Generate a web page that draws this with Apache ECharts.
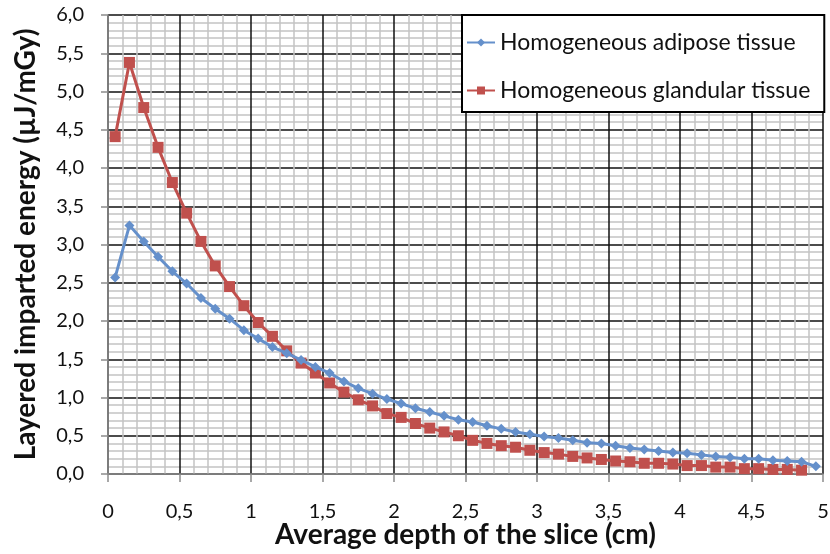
<!DOCTYPE html>
<html>
<head>
<meta charset="utf-8">
<script src="https://cdn.jsdelivr.net/npm/echarts@6/dist/echarts.min.js"></script>
<style>
  html, body { margin: 0; padding: 0; background: #ffffff; }
  #chart { width: 830px; height: 554px; }
</style>
</head>
<body>
<div id="chart"></div>
<script>
// Slice depths (cm) at the centre of each 1 mm slice
const depthAdipose = [
  0.05, 0.15, 0.25, 0.35, 0.45, 0.55, 0.65, 0.75, 0.85, 0.95,
  1.05, 1.15, 1.25, 1.35, 1.45, 1.55, 1.65, 1.75, 1.85, 1.95,
  2.05, 2.15, 2.25, 2.35, 2.45, 2.55, 2.65, 2.75, 2.85, 2.95,
  3.05, 3.15, 3.25, 3.35, 3.45, 3.55, 3.65, 3.75, 3.85, 3.95,
  4.05, 4.15, 4.25, 4.35, 4.45, 4.55, 4.65, 4.75, 4.85, 4.95
];
const depthGlandular = [
  0.05, 0.15, 0.25, 0.35, 0.45, 0.55, 0.65, 0.75, 0.85, 0.95,
  1.05, 1.15, 1.25, 1.35, 1.45, 1.55, 1.65, 1.75, 1.85, 1.95,
  2.05, 2.15, 2.25, 2.35, 2.45, 2.55, 2.65, 2.75, 2.85, 2.95,
  3.05, 3.15, 3.25, 3.35, 3.45, 3.55, 3.65, 3.75, 3.85, 3.95,
  4.05, 4.15, 4.25, 4.35, 4.45, 4.55, 4.65, 4.75, 4.85
];

// Layered imparted energy (µJ/mGy)
const energyAdipose = [
  2.57, 3.25, 3.04, 2.84, 2.65, 2.49, 2.30, 2.16, 2.03, 1.88,
  1.77, 1.66, 1.58, 1.49, 1.40, 1.32, 1.21, 1.12, 1.05, 0.98,
  0.92, 0.86, 0.81, 0.76, 0.71, 0.68, 0.63, 0.59, 0.55, 0.52,
  0.49, 0.47, 0.44, 0.41, 0.40, 0.37, 0.34, 0.32, 0.30, 0.28,
  0.27, 0.25, 0.23, 0.22, 0.20, 0.20, 0.18, 0.17, 0.16, 0.10
];
const energyGlandular = [
  4.41, 5.38, 4.79, 4.27, 3.81, 3.41, 3.04, 2.72, 2.45, 2.20,
  1.98, 1.80, 1.61, 1.45, 1.32, 1.19, 1.07, 0.97, 0.89, 0.79,
  0.74, 0.66, 0.60, 0.55, 0.50, 0.44, 0.40, 0.37, 0.35, 0.31,
  0.28, 0.26, 0.23, 0.21, 0.19, 0.17, 0.16, 0.14, 0.14, 0.13,
  0.11, 0.11, 0.09, 0.09, 0.07, 0.07, 0.06, 0.06, 0.05
];

const seriesNames = ['Homogeneous adipose tissue', 'Homogeneous glandular tissue'];

const FONT = 'Lato, "Open Sans", sans-serif';

function pairs(xs, ys) {
  return xs.map((x, i) => [x, ys[i]]);
}

const chart = echarts.init(document.getElementById('chart'), null, { renderer: 'canvas' });

chart.setOption({
  animation: false,
  backgroundColor: '#ffffff',
  textStyle: { fontFamily: FONT },
  grid: {
    left: 108, right: 7, top: 15, bottom: 80,
    containLabel: false,
    outerBoundsMode: 'none'
  },
  legend: {
    orient: 'vertical',
    left: 462,
    top: 15,
    padding: [16, 14, 10, 4],
    itemGap: 25,
    itemWidth: 28,
    itemHeight: 10,
    backgroundColor: '#ffffff',
    borderColor: '#000000',
    borderWidth: 2,
    borderRadius: 0,
    textStyle: { fontFamily: FONT, fontSize: 23, color: '#111111' },
    data: seriesNames
  },
  xAxis: {
    type: 'value',
    min: 0,
    max: 5,
    interval: 0.5,
    name: 'Average depth of the slice (cm)',
    nameLocation: 'middle',
    nameGap: 47,
    nameMoveOverlap: false,
    nameTextStyle: {
      fontFamily: FONT, fontSize: 28, fontWeight: 'bold', color: '#111111',
      verticalAlign: 'top'
    },
    axisLine: { show: true, onZero: false, lineStyle: { color: '#8c8c8c', width: 1.5 } },
    axisTick: { show: true, length: 8, lineStyle: { color: '#8c8c8c', width: 1.5 } },
    axisLabel: {
      margin: 28,
      fontSize: 20,
      color: '#111111',
      formatter: v => String(v).replace('.', ',')
    },
    splitLine: { show: true, lineStyle: { color: '#111111', width: 1.5 } },
    minorTick: { show: false, splitNumber: 5 },
    minorSplitLine: { show: true, lineStyle: { color: '#c4c4c4', width: 1.5 } }
  },
  yAxis: {
    type: 'value',
    min: 0,
    max: 6,
    interval: 0.5,
    name: 'Layered imparted energy (µJ/mGy)',
    nameLocation: 'middle',
    nameGap: 68,
    nameRotate: 90,
    nameTextStyle: { fontFamily: FONT, fontSize: 28, fontWeight: 'bold', color: '#111111' },
    axisLine: { show: true, lineStyle: { color: '#8c8c8c', width: 1.5 } },
    axisTick: { show: true, length: 7, lineStyle: { color: '#8c8c8c', width: 1.5 } },
    axisLabel: {
      margin: 24,
      fontSize: 20,
      color: '#111111',
      formatter: v => v.toFixed(1).replace('.', ',')
    },
    splitLine: { show: true, lineStyle: { color: '#111111', width: 1.5 } },
    minorTick: { show: false, splitNumber: 5 },
    minorSplitLine: { show: true, lineStyle: { color: '#c4c4c4', width: 1.5 } }
  },
  series: [
    {
      name: seriesNames[0],
      type: 'line',
      data: pairs(depthAdipose, energyAdipose),
      symbol: 'diamond',
      symbolSize: 10,
      showAllSymbol: true,
      itemStyle: { color: '#6590cb' },
      lineStyle: { color: '#6590cb', width: 3 },
      z: 3
    },
    {
      name: seriesNames[1],
      type: 'line',
      data: pairs(depthGlandular, energyGlandular),
      symbol: 'rect',
      symbolSize: 11,
      showAllSymbol: true,
      itemStyle: { color: '#c0504d' },
      lineStyle: { color: '#c0504d', width: 3 },
      z: 2
    }
  ]
});
</script>
</body>
</html>
